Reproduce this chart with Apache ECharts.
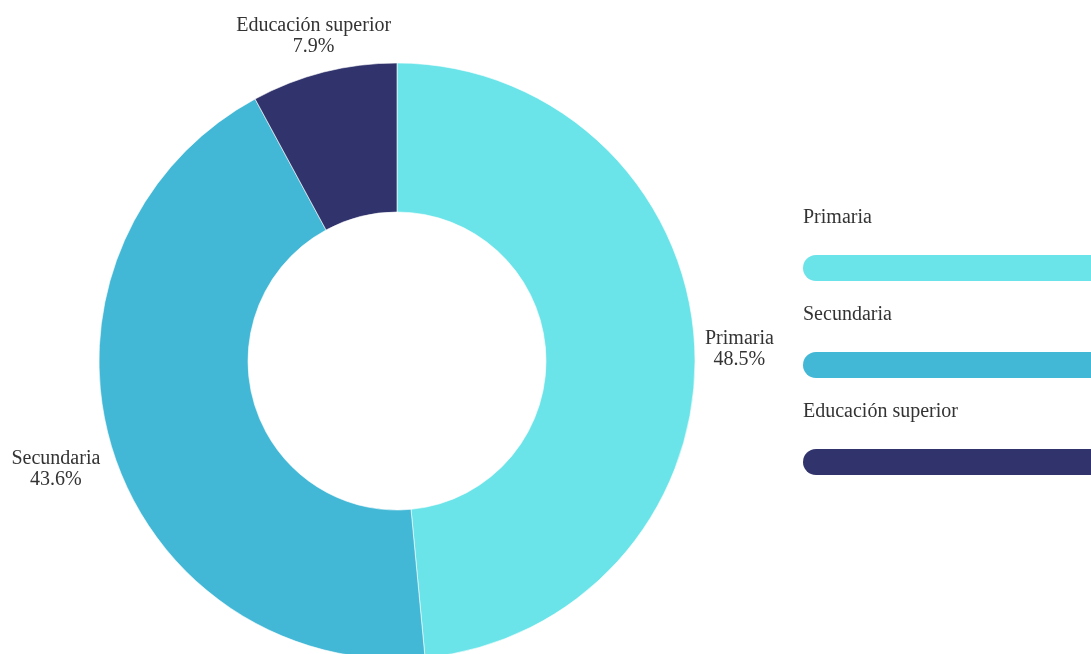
<!DOCTYPE html>
<html>
<head>
<meta charset="utf-8">
<script src="https://cdn.jsdelivr.net/npm/echarts@6/dist/echarts.min.js"></script>
<style>
  html, body { margin: 0; padding: 0; background: #ffffff; }
  #chart { width: 1091px; height: 654px; }
</style>
</head>
<body>
<div id="chart"></div>
<script>
// Share of students by education level (%)
const categories = ['Primaria', 'Secundaria', 'Educación superior'];
const shares = [48.5, 43.6, 7.9];
const colors = ['#6ae4e8', '#42b8d6', '#31346c'];

const FONT = "'Liberation Serif', 'Times New Roman', serif";
const TEXT_COLOR = '#333333';
const CX = 397, CY = 361, R_OUT = 298, R_IN = 149;
const LABEL_GAP = 10;
const LABEL_SHIFT_Y = 4;

const total = shares.reduce((a, b) => a + b, 0);

// Mid-angle direction of each slice (clockwise from 12 o'clock)
function sliceDir(i) {
  let before = 0;
  for (let k = 0; k < i; k++) before += shares[k];
  const theta = ((before + shares[i] / 2) / total) * Math.PI * 2;
  return [Math.sin(theta), -Math.cos(theta)];
}

// Push a label box outward along the slice's mid-angle until its
// nearest point sits just outside the ring.
function placeLabel(i, w, h) {
  const [dx, dy] = sliceDir(i);
  const target = R_OUT + LABEL_GAP;
  let lo = 0, hi = R_OUT + 400;
  for (let it = 0; it < 60; it++) {
    const d = (lo + hi) / 2;
    const bx = CX + d * dx, by = CY + d * dy;
    const px = Math.min(Math.max(CX, bx - w / 2), bx + w / 2);
    const py = Math.min(Math.max(CY, by - h / 2), by + h / 2);
    const dist = Math.hypot(px - CX, py - CY);
    if (dist < target) lo = d; else hi = d;
  }
  const d = hi;
  return { x: CX + d * dx, y: CY + d * dy + LABEL_SHIFT_Y };
}

const pieData = categories.map((name, i) => ({
  name: name,
  value: shares[i],
  itemStyle: { color: colors[i] }
}));

// Legend: name above a wide pill swatch, one per category
const LEG_X = 803, LEG_TOP = 216, LEG_STEP = 97;
const legendGraphics = [];
categories.forEach((name, i) => {
  const y0 = LEG_TOP + i * LEG_STEP;
  legendGraphics.push({
    type: 'text',
    left: LEG_X,
    top: y0 - 8,
    style: {
      text: name,
      font: '20px ' + FONT,
      fill: TEXT_COLOR
    }
  });
  legendGraphics.push({
    type: 'rect',
    shape: { x: LEG_X, y: y0 + 39, width: 320, height: 26, r: 13 },
    style: { fill: colors[i] }
  });
});

const chart = echarts.init(document.getElementById('chart'), null, { renderer: 'canvas' });
chart.setOption({
  backgroundColor: '#ffffff',
  animation: false,
  graphic: legendGraphics,
  series: [{
    type: 'pie',
    center: [CX, CY],
    radius: [R_IN, R_OUT],
    startAngle: 90,
    clockwise: true,
    avoidLabelOverlap: false,
    itemStyle: { borderColor: '#ffffff', borderWidth: 0.6 },
    label: {
      show: true,
      position: 'outside',
      formatter: '{b}\n{d}%',
      fontFamily: FONT,
      fontSize: 20,
      lineHeight: 21,
      color: TEXT_COLOR
    },
    labelLine: { show: false },
    labelLayout: function (params) {
      const r = params.labelRect;
      const p = placeLabel(params.dataIndex, r.width, r.height);
      return { x: p.x, y: p.y, align: 'center', verticalAlign: 'middle' };
    },
    emphasis: { disabled: true },
    data: pieData
  }]
});
</script>
</body>
</html>
